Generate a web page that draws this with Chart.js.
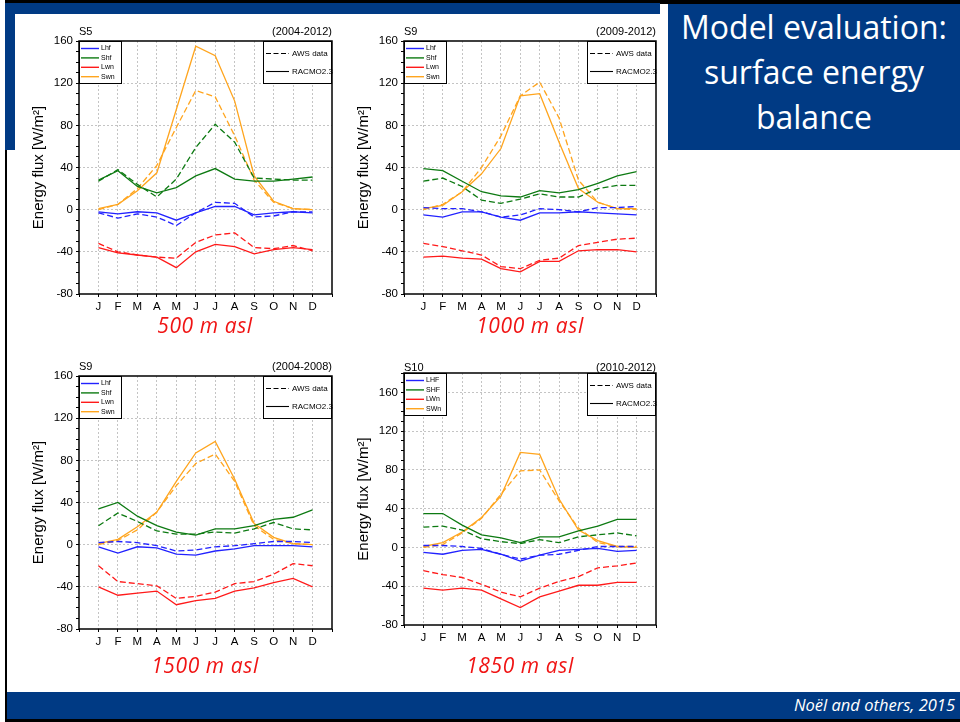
<!DOCTYPE html>
<html>
<head>
<meta charset="utf-8">
<script src="https://cdn.jsdelivr.net/npm/chart.js@4.4.1/dist/chart.umd.min.js"></script>
<style>
  body { margin: 0; width: 960px; height: 722px; background: #fff; position: relative; overflow: hidden; }
  .blk { position: absolute; }
  .navy { background: #003a84; }
  .black { background: #000; }
  canvas { position: absolute; }
  #title { position: absolute; left: 668px; top: 4px; width: 292px; height: 146px; background: #003a84;
           color: #fff; font-family: "Open Sans", sans-serif; font-size: 32px; line-height: 45px;
           text-align: center; padding-top: 0px; box-sizing: border-box; }
  .alt { position: absolute; color: #f01414; font-family: "Open Sans", sans-serif; font-style: italic;
         font-size: 21px; letter-spacing: 0.6px; transform: translate(-50%, -50%); white-space: nowrap; }
  #cite { position: absolute; right: 5px; top: 693px; color: #fff; font-family: "Open Sans", sans-serif;
          font-style: italic; font-size: 16.5px; }
</style>
</head>
<body>
<div class="blk black" style="left:5px;top:0;width:955px;height:4px"></div>
<div class="blk navy" style="left:5px;top:3px;width:655px;height:11px"></div>
<div class="blk navy" style="left:5px;top:3px;width:10px;height:147px"></div>
<div class="blk black" style="left:5px;top:150px;width:2px;height:572px"></div>
<div class="blk navy" style="left:7px;top:692px;width:953px;height:27px"></div>
<div class="blk black" style="left:5px;top:719px;width:955px;height:3px"></div>
<div id="title">Model evaluation:<br>surface energy<br>balance</div>
<div id="cite">Noël and others, 2015</div>

<canvas id="c1" width="315" height="299" style="left:23px;top:19px"></canvas>
<canvas id="c2" width="314" height="299" style="left:348px;top:19px"></canvas>
<canvas id="c3" width="315" height="299" style="left:23px;top:354px"></canvas>
<canvas id="c4" width="314" height="298" style="left:348px;top:351px"></canvas>

<div class="alt" style="left:205px;top:325px">500 m asl</div>
<div class="alt" style="left:530px;top:325px">1000 m asl</div>
<div class="alt" style="left:205px;top:665px">1500 m asl</div>
<div class="alt" style="left:520px;top:665px">1850 m asl</div>

<script>
const months = ['J', 'F', 'M', 'A', 'M', 'J', 'J', 'A', 'S', 'O', 'N', 'D'];
const yLabels = [-80, -40, 0, 40, 80, 120, 160];

// S5 (2004-2012): RACMO2.3 and AWS data
const s5Lhf = [-2, -4, -2, -3, -10, -3, 3, 3, -5, -3, -2, -3];
const s5LhfAws = [-3, -8, -4, -7, -15, -3, 7, 6, -7, -6, -2, -2];
const s5Shf = [28, 37, 22, 16, 21, 32, 39, 29, 27, 27, 29, 31];
const s5ShfAws = [27, 38, 24, 12, 29, 59, 81, 64, 30, 29, 28, 28];
const s5Lwn = [-36, -41, -43, -45, -55, -40, -33, -35, -42, -38, -36, -38];
const s5LwnAws = [-32, -40, -43, -45, -46, -31, -24, -22, -36, -37, -34, -39];
const s5Swn = [1, 5, 18, 35, 95, 155, 146, 103, 32, 8, 1, 0];
const s5SwnAws = [0, 5, 20, 42, 78, 113, 107, 70, 28, 7, 1, 0];

// S9 (2009-2012)
const s9bLhf = [-5, -7, -2, -2, -7, -10, -3, -3, -2, -3, -4, -5];
const s9bLhfAws = [2, 1, 1, -2, -7, -5, 1, 0, -2, 2, 2, 3];
const s9bShf = [39, 37, 27, 17, 13, 12, 18, 16, 19, 25, 32, 36];
const s9bShfAws = [27, 30, 22, 9, 6, 10, 15, 12, 12, 20, 23, 23];
const s9bLwn = [-45, -44, -46, -47, -56, -59, -49, -49, -39, -38, -38, -40];
const s9bLwnAws = [-32, -35, -39, -43, -54, -56, -48, -46, -34, -31, -28, -27];
const s9bSwn = [1, 4, 17, 34, 58, 108, 110, 64, 20, 7, 1, 1];
const s9bSwnAws = [0, 5, 17, 40, 70, 108, 121, 87, 28, 7, 1, 0];

// S9 (2004-2008)
const s9aLhf = [-2, -8, -2, -3, -9, -10, -6, -4, -1, -1, -1, -2];
const s9aLhfAws = [2, 3, 2, -1, -6, -5, -2, -1, 1, 3, 3, 2];
const s9aShf = [34, 40, 27, 18, 12, 9, 15, 15, 18, 24, 26, 33];
const s9aShfAws = [18, 30, 22, 13, 10, 10, 12, 11, 15, 21, 15, 14];
const s9aLwn = [-40, -48, -46, -44, -57, -53, -51, -44, -41, -36, -32, -40];
const s9aLwnAws = [-20, -35, -37, -39, -51, -49, -45, -37, -35, -28, -18, -20];
const s9aSwn = [1, 5, 17, 31, 60, 87, 98, 62, 20, 7, 1, 0];
const s9aSwnAws = [0, 4, 14, 31, 56, 77, 86, 60, 18, 5, 1, 0];

// S10 (2010-2012)
const s10Lhf = [-5, -7, -3, -2, -7, -14, -8, -3, -2, -1, -4, -3];
const s10LhfAws = [2, 2, 1, -1, -7, -12, -8, -7, -3, 1, 1, 1];
const s10Shf = [35, 35, 23, 13, 10, 5, 11, 11, 17, 22, 29, 29];
const s10ShfAws = [21, 22, 18, 9, 6, 4, 8, 5, 11, 13, 15, 12];
const s10Lwn = [-42, -44, -42, -44, -53, -62, -51, -45, -39, -39, -36, -36];
const s10LwnAws = [-24, -28, -31, -38, -46, -51, -42, -35, -30, -21, -19, -16];
const s10Swn = [1, 5, 16, 31, 53, 98, 96, 50, 18, 7, 1, 0];
const s10SwnAws = [0, 3, 15, 30, 55, 79, 80, 48, 20, 5, 1, 1];

const colors = ['#2222ff', '#0d7a12', '#ff1a1a', '#ffa51e'];

Chart.defaults.font.family = '"Liberation Sans", Arial, sans-serif';
Chart.defaults.color = '#000';

// draws the full frame, the two legend boxes and the labels above the plot
const panelDeco = {
    id: 'panelDeco',
    afterDatasetsDraw(chart, args, opts) {
        const ctx = chart.ctx, a = chart.chartArea;
        ctx.save();
        // left legend (fluxes)
        ctx.fillStyle = '#fff';
        ctx.fillRect(a.left, a.top, 42, 42);
        ctx.strokeStyle = '#000';
        ctx.lineWidth = 1;
        ctx.strokeRect(a.left + 0.5, a.top + 0.5, 42, 42);
        ctx.font = '7px "Liberation Sans", Arial, sans-serif';
        ctx.textBaseline = 'middle';
        opts.names.forEach((n, i) => {
            const y = a.top + 7.5 + i * 9.4;
            ctx.strokeStyle = colors[i];
            ctx.lineWidth = 1.4;
            ctx.beginPath(); ctx.moveTo(a.left + 2, y); ctx.lineTo(a.left + 20, y); ctx.stroke();
            ctx.fillStyle = '#000';
            ctx.fillText(n, a.left + 22, y);
        });
        // right legend (line style)
        const rx = a.right - 69;
        ctx.fillStyle = '#fff';
        ctx.fillRect(rx, a.top, 69, 42);
        ctx.strokeStyle = '#000';
        ctx.lineWidth = 1;
        ctx.strokeRect(rx + 0.5, a.top + 0.5, 68, 42);
        ctx.font = '8px "Liberation Sans", Arial, sans-serif';
        ['AWS data', 'RACMO2.3'].forEach((t, i) => {
            const y = a.top + 12.5 + i * 18;
            ctx.setLineDash(i === 0 ? [5, 2.5] : []);
            ctx.strokeStyle = '#000';
            ctx.lineWidth = 1.1;
            ctx.beginPath(); ctx.moveTo(rx + 3, y); ctx.lineTo(rx + 26, y); ctx.stroke();
            ctx.setLineDash([]);
            ctx.fillStyle = '#000';
            ctx.fillText(t, rx + 29, y);
        });
        // frame
        ctx.lineWidth = 1.5;
        ctx.strokeRect(a.left, a.top, a.right - a.left, a.bottom - a.top);
        // labels on top
        ctx.font = '11px "Liberation Sans", Arial, sans-serif';
        ctx.textAlign = 'left';
        ctx.fillText(opts.site, a.left, a.top - opts.gap);
        ctx.textAlign = 'right';
        ctx.fillText(opts.period, a.right, a.top - opts.gap);
        ctx.restore();
    }
};

function line(data, idx, aws) {
    return {
        data: data.map((v, i) => ({ x: i + 1, y: v })),
        borderColor: colors[idx],
        borderWidth: 1.3,
        borderDash: aws ? [6, 3] : [],
        pointRadius: 0,
        tension: 0,
        fill: false
    };
}

function make_panel(id, site, period, names, yMax, gap, series) {
    const datasets = [];
    series.forEach((pair, i) => {
        datasets.push(line(pair[1], i, true));
        datasets.push(line(pair[0], i, false));
    });
    new Chart(document.getElementById(id), {
        type: 'line',
        data: { datasets: datasets },
        plugins: [panelDeco],
        options: {
            responsive: false,
            animation: false,
            devicePixelRatio: 1,
            layout: { padding: { top: 22, right: 6, left: 0, bottom: 0 } },
            plugins: {
                legend: { display: false },
                tooltip: { enabled: false },
                panelDeco: { site: site, period: period, names: names, gap: gap }
            },
            scales: {
                x: {
                    type: 'linear',
                    min: 0, max: 13,
                    afterBuildTicks: s => { s.ticks = []; for (let v = 0; v <= 13; v++) s.ticks.push({ value: v }); },
                    afterFit: s => { s.height = 24; },
                    ticks: {
                        autoSkip: false, maxRotation: 0, padding: 3,
                        font: { size: 11.5 },
                        callback: v => (v >= 1 && v <= 12) ? months[v - 1] : ''
                    },
                    grid: {
                        color: c => (c.tick && c.tick.value >= 1 && c.tick.value <= 12) ? '#c4c4c4' : 'rgba(0,0,0,0)',
                        tickColor: '#000', tickLength: 3, lineWidth: 1
                    },
                    border: { display: false, dash: [2, 2] }
                },
                y: {
                    min: -80, max: yMax,
                    afterBuildTicks: s => { s.ticks = []; for (let v = -80; v <= yMax; v += 10) s.ticks.push({ value: v }); },
                    afterFit: s => { s.width = 56; },
                    ticks: {
                        autoSkip: false, padding: 3,
                        font: { size: 11.5 },
                        callback: v => yLabels.includes(v) ? String(v) : ''
                    },
                    grid: {
                        color: c => (c.tick && yLabels.includes(c.tick.value) && c.tick.value > -80 && c.tick.value < yMax) ? '#c4c4c4' : 'rgba(0,0,0,0)',
                        tickColor: '#000', tickLength: 3, lineWidth: 1
                    },
                    border: { display: false, dash: [2, 2] },
                    title: {
                        display: true, text: 'Energy flux [W/m²]',
                        font: { size: 15 }, padding: { top: 7, bottom: 0 }
                    }
                }
            }
        }
    });
}

const lowNames = ['Lhf', 'Shf', 'Lwn', 'Swn'];
const capNames = ['LHF', 'SHF', 'LWn', 'SWn'];

make_panel('c1', 'S5', '(2004-2012)', lowNames, 160, 9,
    [[s5Lhf, s5LhfAws], [s5Shf, s5ShfAws], [s5Lwn, s5LwnAws], [s5Swn, s5SwnAws]]);
make_panel('c2', 'S9', '(2009-2012)', lowNames, 160, 9,
    [[s9bLhf, s9bLhfAws], [s9bShf, s9bShfAws], [s9bLwn, s9bLwnAws], [s9bSwn, s9bSwnAws]]);
make_panel('c3', 'S9', '(2004-2008)', lowNames, 160, 9,
    [[s9aLhf, s9aLhfAws], [s9aShf, s9aShfAws], [s9aLwn, s9aLwnAws], [s9aSwn, s9aSwnAws]]);
make_panel('c4', 'S10', '(2010-2012)', capNames, 180, 5,
    [[s10Lhf, s10LhfAws], [s10Shf, s10ShfAws], [s10Lwn, s10LwnAws], [s10Swn, s10SwnAws]]);
</script>
</body>
</html>
